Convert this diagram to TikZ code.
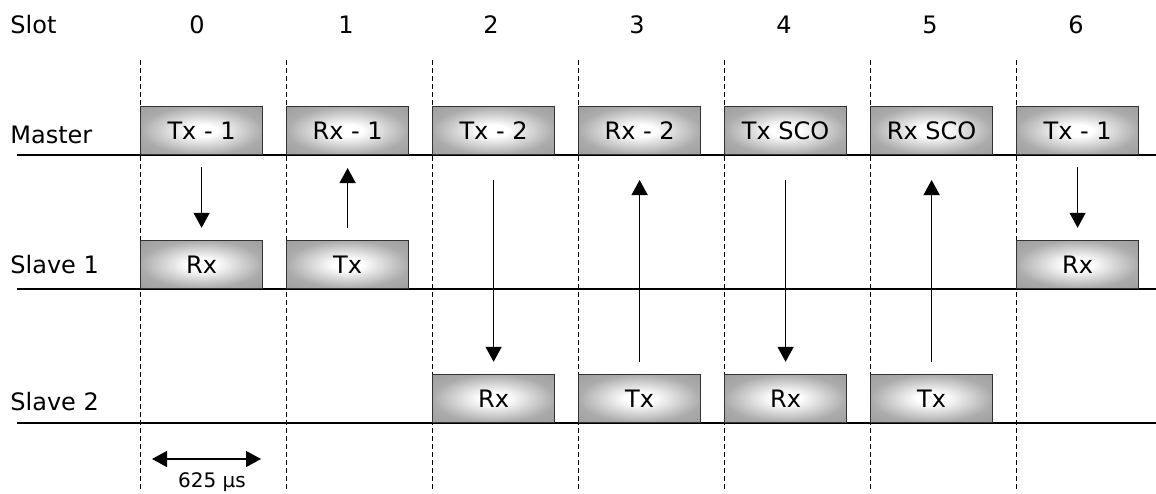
\documentclass[tikz,border=0pt]{standalone}
\usepackage{fontspec}
\setmainfont{DejaVu Sans}
\usetikzlibrary{arrows.meta}

% grey box fill, light in the middle
\pgfdeclareradialshading{slotfill}{\pgfpoint{0bp}{0bp}}{color(0bp)=(white); color(6bp)=(white); color(25bp)=(black!33); color(36bp)=(black!38)}

\tikzset{
  pkt/.style={draw=black!80, line width=0.6pt, shading=slotfill, anchor=south west,
    minimum width=61pt, minimum height=24pt, inner sep=0pt, font=\fontsize{12}{14}\selectfont},
  lbl/.style={font=\fontsize{12}{14}\selectfont, inner sep=0pt},
  sig/.style={line width=0.7pt, -{Triangle[length=7.5pt,width=8pt]}},
  base/.style={line width=1pt},
  grid/.style={line width=0.5pt, dash pattern=on 2.5pt off 1.5pt},
}

\begin{document}
\begin{tikzpicture}[x=0.5pt,y=-0.5pt]
    \useasboundingbox (0,0) rectangle (1156,493);

    % slot boundaries
    \draw[grid] (140,60) -- (140,490);
    \draw[grid] (286,60) -- (286,490);
    \draw[grid] (432,60) -- (432,490);
    \draw[grid] (578,60) -- (578,490);
    \draw[grid] (724,60) -- (724,490);
    \draw[grid] (870,60) -- (870,490);
    \draw[grid] (1016,60) -- (1016,490);

    % header
    \node[lbl, anchor=base west] (slot) at (10,33) {Slot};
    \node[lbl, anchor=base] (n0) at (197,33) {0};
    \node[lbl, anchor=base] (n1) at (346,33) {1};
    \node[lbl, anchor=base] (n2) at (491,33) {2};
    \node[lbl, anchor=base] (n3) at (637,33) {3};
    \node[lbl, anchor=base] (n4) at (784,33) {4};
    \node[lbl, anchor=base] (n5) at (930,33) {5};
    \node[lbl, anchor=base] (n6) at (1076,33) {6};

    % rows
    \node[lbl, anchor=base west] (master) at (10,143) {Master};
    \node[lbl, anchor=base west] (slave1) at (10,273) {Slave 1};
    \node[lbl, anchor=base west] (slave2) at (10,410) {Slave 2};
    \draw[base] (17,155) -- (1156,155);
    \draw[base] (17,289) -- (1156,289);
    \draw[base] (17,423) -- (1156,423);

    % master packets
    \node[pkt] (m0) at (140,155) {Tx - 1};
    \node[pkt] (m1) at (286,155) {Rx - 1};
    \node[pkt] (m2) at (432,155) {Tx - 2};
    \node[pkt] (m3) at (578,155) {Rx - 2};
    \node[pkt] (m4) at (724,155) {Tx SCO};
    \node[pkt] (m5) at (870,155) {Rx SCO};
    \node[pkt] (m6) at (1016,155) {Tx - 1};

    % slave 1
    \node[pkt] (sa0) at (140,289) {Rx};
    \node[pkt] (sa1) at (286,289) {Tx};
    \node[pkt] (sa6) at (1016,289) {Rx};

    % slave 2
    \node[pkt] (sb2) at (432,423) {Rx};
    \node[pkt] (sb3) at (578,423) {Tx};
    \node[pkt] (sb4) at (724,423) {Rx};
    \node[pkt] (sb5) at (870,423) {Tx};

    \draw[sig, shorten <=6pt, shorten >=6pt] (m0.south) -- (sa0.north);
    \draw[sig, shorten <=6pt, shorten >=6.5pt] (sa1.north) -- (m1.south);
    \draw[sig, shorten <=12.5pt, shorten >=6pt] (m2.south) -- (sb2.north);
    \draw[sig, shorten <=6pt, shorten >=12.5pt] (sb3.north) -- (m3.south);
    \draw[sig, shorten <=12.5pt, shorten >=6pt] (m4.south) -- (sb4.north);
    \draw[sig, shorten <=6pt, shorten >=12.5pt] (sb5.north) -- (m5.south);
    \draw[sig, shorten <=6pt, shorten >=6pt] (m6.south) -- (sa6.north);

    % slot length
    \coordinate (t0) at (152,459);
    \coordinate (t1) at (261,459);
    \draw[line width=0.7pt, {Triangle[length=7.5pt,width=8pt]}-{Triangle[length=7.5pt,width=8pt]}] (t0) -- (t1);
    \node[anchor=base, inner sep=0pt, font=\fontsize{10}{12}\selectfont] (dur) at (212,487) {625 μs};
\end{tikzpicture}
\end{document}
